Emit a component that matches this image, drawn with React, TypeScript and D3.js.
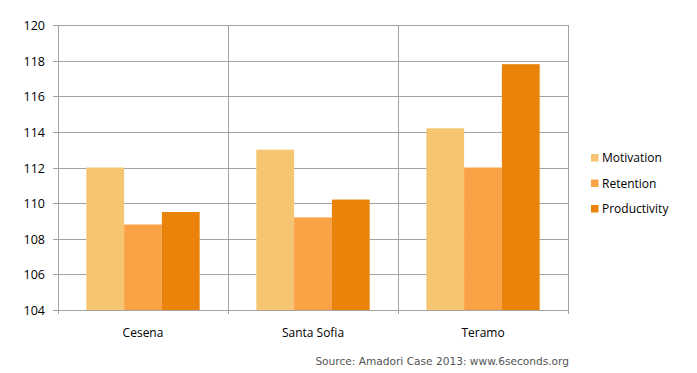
import * as d3 from 'd3'
import React from 'react'

const categories = ['Cesena', 'Santa Sofia', 'Teramo'];
const series = ['Motivation', 'Retention', 'Productivity'];
const motivation = [112, 113, 114.2];
const retention = [108.8, 109.2, 112];
const productivity = [109.5, 110.2, 117.8];
const yTicks = [104, 106, 108, 110, 112, 114, 116, 118, 120];
const colors = ['#F5C572', '#FBA146', '#E9830A'];
const source = 'Source: Amadori Case 2013: www.6seconds.org';

const width = 697;
const height = 373;
const margin = { top: 25, right: 129, bottom: 63, left: 58 };

const App = () => {
    const innerWidth = width - margin.left - margin.right;
    const innerHeight = height - margin.top - margin.bottom;
    const values = [motivation, retention, productivity];

    const x0 = d3.scaleBand().domain(categories).range([0, innerWidth]).padding(0);
    const x1 = d3.scaleBand().domain(series).range([0, x0.bandwidth()])
        .paddingInner(0).paddingOuter(0.75);
    const y = d3.scaleLinear().domain([104, 120]).range([innerHeight, 0]);

    const gridColor = '#a3a3a3';
    const font = '"Open Sans", sans-serif';

    return (
        <svg width={width} height={height} style={{ position: 'absolute', left: 0, top: 0 }}>
            <rect width={width} height={height} fill='white' />
            <g transform={`translate(${margin.left},${margin.top})`}>
                {yTicks.map(t => (
                    <g key={t} transform={`translate(0,${Math.round(y(t)) + 0.5})`}>
                        <line x1={-5} x2={innerWidth} stroke={gridColor} />
                        <text x={-13} dy='0.35em' textAnchor='end' fontFamily={font} fontSize={12.5} fill='#000'>{t}</text>
                    </g>
                ))}
                {categories.map((c, i) => (
                    <g key={c}>
                        {values.map((vals, s) => (
                            <rect key={series[s]}
                                x={x0(c)! + x1(series[s])!}
                                y={y(vals[i])}
                                width={x1.bandwidth()}
                                height={innerHeight - y(vals[i])}
                                fill={colors[s]} />
                        ))}
                        <text x={x0(c)! + x0.bandwidth() / 2} y={innerHeight + 27}
                            textAnchor='middle' fontFamily={font} fontSize={12} fill='#000'>{c}</text>
                    </g>
                ))}
                {d3.range(categories.length + 1).map(i => {
                    const xv = Math.round(i * x0.step()) + 0.5;
                    return <line key={i} x1={xv} x2={xv} y1={0} y2={innerHeight + 4} stroke={gridColor} />
                })}
            </g>
            <g transform='translate(591,0)'>
                {series.map((s, i) => (
                    <g key={s} transform={`translate(0,${158 + i * 25.5})`}>
                        <rect x={0} y={-4} width={7.5} height={7.5} fill={colors[i]} />
                        <text x={11} dy='0.35em' fontFamily={font} fontSize={12} fill='#000'>{s}</text>
                    </g>
                ))}
            </g>
            <text x={569} y={365} textAnchor='end' fontFamily='"DejaVu Sans", Verdana, sans-serif'
                fontSize={10.6} fill='#555'>{source}</text>
        </svg>
    );
};

export default App;
